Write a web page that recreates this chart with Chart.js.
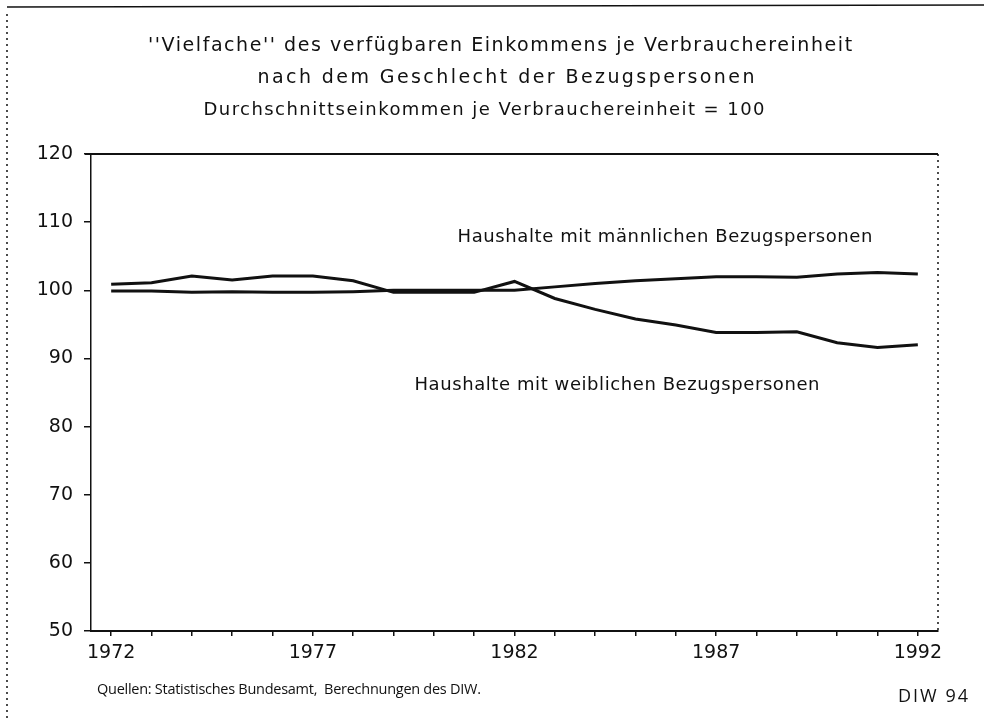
<!DOCTYPE html>
<html><head><meta charset="utf-8">
<script src="https://cdn.jsdelivr.net/npm/chart.js@4.4.1/dist/chart.umd.min.js"></script>
<style>html,body{margin:0;padding:0;background:#fff}canvas{display:block}</style>
</head><body>
<canvas id="c" width="984" height="718"></canvas>
<script>
// ---- data ----
const years = [1972,1973,1974,1975,1976,1977,1978,1979,1980,1981,1982,1983,1984,1985,1986,1987,1988,1989,1990,1991,1992];
const maleValues   = [99.9, 99.9, 99.7, 99.8, 99.7, 99.7, 99.8, 100.0, 100.0, 100.0, 100.0, 100.5, 101.0, 101.4, 101.7, 102.0, 102.0, 101.9, 102.4, 102.6, 102.4];
const femaleValues = [100.9, 101.1, 102.1, 101.5, 102.1, 102.1, 101.4, 99.7, 99.7, 99.7, 101.3, 98.8, 97.2, 95.8, 94.9, 93.8, 93.8, 93.9, 92.3, 91.6, 92.0];
const labeledYears = [1972, 1977, 1982, 1987, 1992];
const yMin = 50, yMax = 120, yStep = 10;
const titleLines = ["''Vielfache'' des verfügbaren Einkommens je Verbrauchereinheit", "nach dem Geschlecht der Bezugspersonen"];
const subtitleText = "Durchschnittseinkommen je Verbrauchereinheit = 100";
const maleLabel = "Haushalte mit männlichen Bezugspersonen";
const femaleLabel = "Haushalte mit weiblichen Bezugspersonen";
const sourceText = "Quellen: Statistisches Bundesamt,  Berechnungen des DIW.";
const badgeText = "DIW 94";

const INK = '#111';
const TXT = "'DejaVu Sans', sans-serif";
const NARROW = "'Open Sans', 'DejaVu Sans', sans-serif";
const NUM = "'DejaVu Sans', sans-serif";

function spacedText(ctx, text, cx, cy, font, width) {
  ctx.save();
  ctx.font = font;
  ctx.fillStyle = INK;
  ctx.textBaseline = 'middle';
  ctx.textAlign = 'left';
  try { ctx.letterSpacing = '0px'; } catch (e) {}
  const w0 = ctx.measureText(text).width;
  const n = Array.from(text).length;
  const ls = (width - w0) / Math.max(n - 1, 1);
  let x = cx - width / 2;
  if ('letterSpacing' in ctx) {
    ctx.letterSpacing = ls.toFixed(2) + 'px';
  } else {
    x = cx - w0 / 2;
  }
  ctx.fillText(text, x, cy);
  ctx.restore();
}

const decor = {
  id: 'decor',
  afterDraw(chart) {
    const ctx = chart.ctx;
    const a = chart.chartArea;
    const ys = chart.scales.y;
    ctx.save();
    ctx.strokeStyle = INK;
    ctx.lineWidth = 2;
    ctx.beginPath();
    ctx.moveTo(a.left - 6, ys.getPixelForValue(yMax));
    ctx.lineTo(a.right, ys.getPixelForValue(yMax));
    ctx.stroke();
    ctx.lineWidth = 1.5;
    ctx.setLineDash([2, 4]);
    ctx.beginPath();
    ctx.moveTo(a.right, a.top);
    ctx.lineTo(a.right, a.bottom);
    ctx.stroke();
    ctx.beginPath();
    ctx.moveTo(7, 14);
    ctx.lineTo(7, 718);
    ctx.stroke();
    ctx.setLineDash([]);
    ctx.beginPath();
    ctx.moveTo(7, 7);
    ctx.lineTo(984, 5);
    ctx.stroke();
    ctx.restore();

    spacedText(ctx, titleLines[0], 500, 46, `400 19px ${TXT}`, 704);
    spacedText(ctx, titleLines[1], 506, 78, `400 19px ${TXT}`, 497);
    spacedText(ctx, subtitleText, 484, 110, `400 18px ${TXT}`, 561);
    spacedText(ctx, maleLabel, 665, ys.getPixelForValue(107.8), `400 18px ${TXT}`, 415);
    spacedText(ctx, femaleLabel, 617, ys.getPixelForValue(86.1), `400 18px ${TXT}`, 405);
    spacedText(ctx, sourceText, 289, 690, `400 14.5px ${NARROW}`, 384);
    spacedText(ctx, badgeText, 933, 697, `400 18px ${NARROW}`, 70);
  }
};

new Chart(document.getElementById('c'), {
  type: 'line',
  data: {
    labels: years.map(String),
    datasets: [
      { label: maleLabel, data: maleValues, borderColor: INK, borderWidth: 3, pointRadius: 0, tension: 0, fill: false },
      { label: femaleLabel, data: femaleValues, borderColor: INK, borderWidth: 3, pointRadius: 0, tension: 0, fill: false }
    ]
  },
  options: {
    responsive: false,
    animation: false,
    devicePixelRatio: 1,
    layout: { padding: { top: 154, left: 0, right: 46, bottom: 0 } },
    plugins: { legend: { display: false }, title: { display: false }, tooltip: { enabled: false } },
    scales: {
      x: {
        type: 'category',
        offset: true,
        afterFit(s) { s.height = 87; },
        grid: { drawOnChartArea: false, drawTicks: true, tickLength: 5, color: INK, lineWidth: 1.5 },
        border: { display: true, color: INK, width: 2 },
        ticks: {
          autoSkip: false, maxRotation: 0, padding: 6, color: INK,
          font: { family: NUM, size: 19 },
          callback(v, i) { const y = years[i]; return labeledYears.includes(y) ? String(y) : ''; }
        }
      },
      y: {
        min: yMin, max: yMax,
        afterFit(s) { s.width = 91; },
        grid: { drawOnChartArea: false, drawTicks: true, tickLength: 7, color: INK, lineWidth: 1.5 },
        border: { display: true, color: INK, width: 1.5, dash: [2, 4] },
        ticks: { stepSize: yStep, padding: 11, color: INK, font: { family: NUM, size: 19 } }
      }
    }
  },
  plugins: [decor]
});
</script>
</body></html>
